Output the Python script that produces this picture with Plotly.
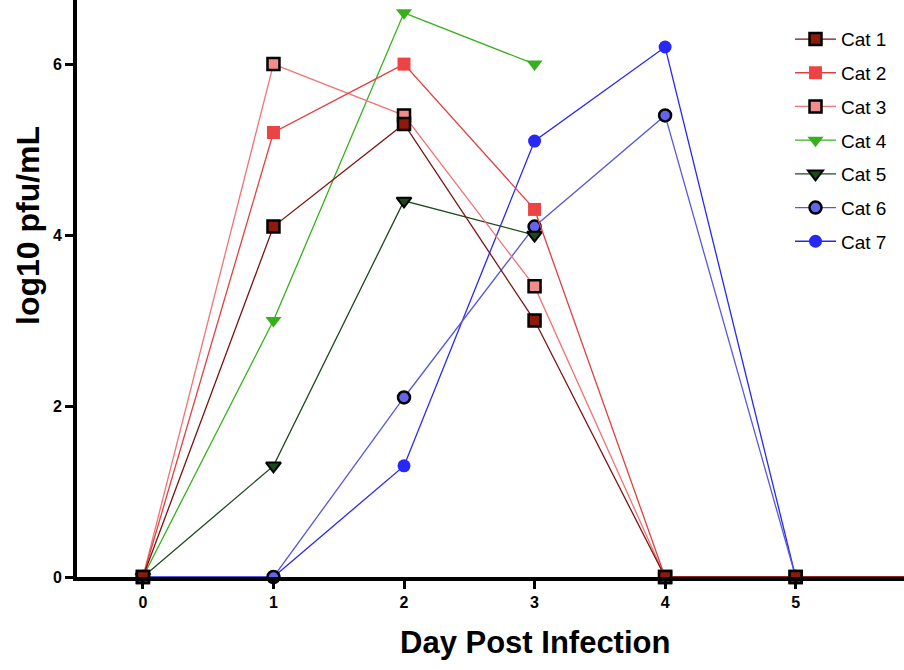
import plotly.graph_objects as go

names = ["Cat 1", "Cat 2", "Cat 3", "Cat 4", "Cat 5", "Cat 6", "Cat 7"]
days_long = [0, 1, 2, 3, 4, 5, 6]
days_short = [0, 1, 2, 3]
days_mid = [0, 1, 2, 3, 4, 5]

cat1 = [0, 4.1, 5.3, 3.0, 0, 0, 0]
cat2 = [0, 5.2, 6.0, 4.3, 0, 0, 0]
cat3 = [0, 6.0, 5.4, 3.4, 0, 0, 0]
cat4 = [0, 3.0, 6.6, 6.0]
cat5 = [0, 1.3, 4.4, 4.0]
cat6 = [0, 0, 2.1, 4.1, 5.4, 0]
cat7 = [0, 0, 1.3, 5.1, 6.2, 0]

x_ticks = [0, 1, 2, 3, 4, 5]
y_ticks = [0, 2, 4, 6]

series = [
    ("Cat 1", days_long, cat1, "square", "#8E1A0C", "#7A1410", 2.5, "black"),
    ("Cat 2", days_long, cat2, "square", "#EC4444", "#E04040", 0, "#EC4444"),
    ("Cat 3", days_long, cat3, "square", "#F28C8C", "#F07474", 2.5, "black"),
    ("Cat 4", days_short, cat4, "triangle-down", "#38B01E", "#38B01E", 0, "#38B01E"),
    ("Cat 5", days_short, cat5, "triangle-down", "#1C4A1A", "#1E4A1E", 2, "black"),
    ("Cat 6", days_mid, cat6, "circle", "#6464EC", "#5858DC", 2.5, "black"),
    ("Cat 7", days_mid, cat7, "circle", "#2828F4", "#2828F4", 0, "#2828F4"),
]

fig = go.Figure()
# draw in reverse so Cat 1 sits on top, keep legend order with legendrank
for i, (name, xs, ys, sym, fill, lcol, bw, bcol) in reversed(list(enumerate(series))):
    size = 13 if sym == "triangle-down" else 12
    if bw == 0:
        size += 1
    fig.add_trace(go.Scatter(
        x=xs, y=ys, name=name, mode="lines+markers",
        line=dict(color=lcol, width=1.3),
        marker=dict(symbol=sym, size=size, color=fill,
                    line=dict(color=bcol, width=bw)),
        legendrank=i + 1,
        legendgroup=name,
        cliponaxis=False,
    ))

fig.update_layout(
    width=904, height=670,
    margin=dict(l=77, r=0, t=0, b=93),
    plot_bgcolor="white", paper_bgcolor="white",
    font=dict(family="Liberation Sans, Arial, sans-serif", color="black"),
    showlegend=True,
    legend=dict(x=(790 - 77) / 827, y=0.965, xanchor="left", yanchor="top",
                font=dict(size=19, color="black"),
                bgcolor="rgba(0,0,0,0)", tracegroupgap=6, itemwidth=41,
                traceorder="grouped"),
    xaxis=dict(range=[-0.505, 5.83], tickvals=x_ticks,
               ticktext=[str(v) for v in x_ticks],
               showgrid=False, zeroline=False,
               showline=True, linecolor="black", linewidth=4,
               ticks="outside", ticklen=8, tickwidth=3, tickcolor="black",
               tickfont=dict(size=16, family="Liberation Sans, Arial", weight="bold")),
    yaxis=dict(range=[0, 6.75], tickvals=y_ticks,
               ticktext=[str(v) for v in y_ticks],
               showgrid=False, zeroline=False,
               showline=True, linecolor="black", linewidth=4,
               ticks="outside", ticklen=8, tickwidth=3, tickcolor="black",
               tickfont=dict(size=16, family="Liberation Sans, Arial", weight="bold")),
)

fig.add_annotation(text="<b>log10 pfu/mL</b>", xref="paper", yref="paper",
                   x=(28 - 77) / 827, y=(577 - 226) / 577, xanchor="center", yanchor="middle",
                   textangle=-90, showarrow=False,
                   font=dict(size=32, color="black"))
fig.add_annotation(text="<b>Day Post Infection</b>", xref="x", yref="paper",
                   x=3.0, y=-(642 - 577) / 577, xanchor="center", yanchor="middle",
                   showarrow=False, font=dict(size=31, color="black"))

fig.write_html("out.html")
